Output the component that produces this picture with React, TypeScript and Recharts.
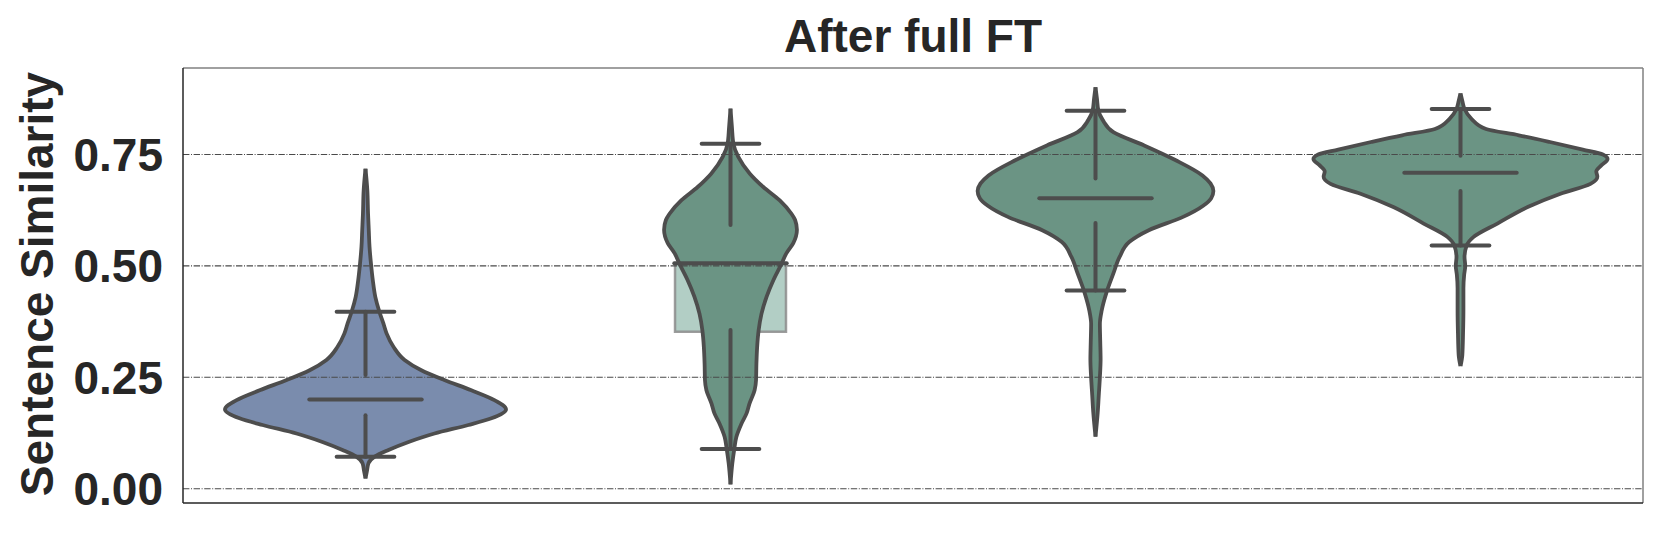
import { Area, ComposedChart, ReferenceArea, ReferenceLine, XAxis, YAxis } from 'recharts'

const yTicks = [0, 0.25, 0.5, 0.75]
const yDomain: [number, number] = [-0.032, 0.944]
const xDomain: [number, number] = [0, 4]

// violin outlines: sample heights and half widths (in category units)
const v1Y = [0.023, 0.04, 0.057, 0.072, 0.087, 0.105, 0.124, 0.143, 0.158, 0.178, 0.199, 0.221, 0.244, 0.266, 0.289, 0.318, 0.348, 0.371, 0.397, 0.43, 0.468, 0.505, 0.543, 0.58, 0.617, 0.67, 0.718]
const v1W = [0, 0.004, 0.008, 0.025, 0.063, 0.118, 0.189, 0.282, 0.345, 0.385, 0.353, 0.29, 0.216, 0.153, 0.107, 0.077, 0.058, 0.049, 0.038, 0.027, 0.02, 0.015, 0.011, 0.009, 0.007, 0.005, 0]

const v2Y = [0.01, 0.057, 0.087, 0.116, 0.146, 0.169, 0.191, 0.221, 0.244, 0.281, 0.318, 0.355, 0.393, 0.431, 0.469, 0.505, 0.528, 0.551, 0.581, 0.603, 0.617, 0.647, 0.677, 0.707, 0.745, 0.774, 0.81, 0.853]
const v2W = [0, 0.005, 0.01, 0.016, 0.03, 0.044, 0.052, 0.066, 0.07, 0.071, 0.073, 0.077, 0.085, 0.099, 0.118, 0.14, 0.153, 0.172, 0.182, 0.177, 0.167, 0.135, 0.09, 0.053, 0.021, 0.008, 0.004, 0]

const v3Y = [0.117, 0.17, 0.21, 0.25, 0.29, 0.33, 0.37, 0.4, 0.44, 0.483, 0.52, 0.554, 0.58, 0.61, 0.635, 0.652, 0.668, 0.685, 0.703, 0.737, 0.771, 0.8, 0.827, 0.848, 0.875, 0.901]
const v3W = [0, 0.006, 0.009, 0.012, 0.014, 0.013, 0.012, 0.017, 0.03, 0.049, 0.066, 0.093, 0.146, 0.24, 0.295, 0.317, 0.323, 0.315, 0.293, 0.22, 0.131, 0.049, 0.02, 0.008, 0.004, 0]

const v4Y = [0.275, 0.3, 0.35, 0.4, 0.45, 0.48, 0.5, 0.52, 0.546, 0.565, 0.595, 0.632, 0.662, 0.684, 0.7, 0.712, 0.725, 0.74, 0.75, 0.761, 0.778, 0.793, 0.807, 0.83, 0.852, 0.87, 0.887]
const v4W = [0, 0.005, 0.007, 0.008, 0.008, 0.01, 0.013, 0.011, 0.017, 0.036, 0.101, 0.184, 0.274, 0.356, 0.375, 0.372, 0.385, 0.403, 0.39, 0.335, 0.245, 0.16, 0.07, 0.03, 0.011, 0.005, 0]

// inner marks per violin
const medians = [0.2, 0.506, 0.652, 0.709]
const capLow = [0.072, 0.089, 0.445, 0.546]
const capHigh = [0.397, 0.774, 0.848, 0.852]
const q1 = [0.165, 0.356, 0.596, 0.668]
const q3 = [0.255, 0.592, 0.696, 0.747]

// shaded box on the second violin
const boxIndex = 1
const boxLow = 0.352
const boxHigh = 0.506

const fills = ['#7a8cad', '#6b9484', '#6b9484', '#6b9484']

const FONT = "'Liberation Sans', Arial, sans-serif"
const INK = '#4d4d4d'
const MEDIAN_HALF = 0.154
const CAP_HALF = 0.079

const outlines = [
  [v1Y, v1W],
  [v2Y, v2W],
  [v3Y, v3W],
  [v4Y, v4W],
].map(([ys, ws], i) => ys.map((y, k) => ({ y, range: [i + 0.5 - ws[k], i + 0.5 + ws[k]] })))

export default function App() {
  const lineProps = { stroke: INK, strokeWidth: 4, strokeLinecap: 'round' as const, ifOverflow: 'visible' as const }
  return (
    <div style={{ position: 'absolute', left: 0, top: 0, width: 1662, height: 534, background: '#fff' }}>
      <ComposedChart
        layout="vertical"
        width={1662}
        height={534}
        margin={{ top: 68, right: 19, bottom: 31, left: 0 }}
      >
        <XAxis type="number" domain={xDomain} allowDataOverflow hide />
        <YAxis
          type="number"
          dataKey="y"
          reversed
          domain={yDomain}
          allowDataOverflow
          ticks={yTicks}
          tickFormatter={(v: number) => v.toFixed(2)}
          width={183}
          tickSize={0}
          tickMargin={20}
          tickLine={false}
          axisLine={{ stroke: '#262626', strokeWidth: 1.5 }}
          tick={{ fontSize: 46, fontWeight: 700, fill: '#262626', fontFamily: FONT }}
        />
        {yTicks.map((t) => (
          <ReferenceLine key={`grid-${t}`} y={t} stroke="#4a4a4a" strokeWidth={1.1} strokeDasharray="6.4 1.6 1 1.6" />
        ))}
        <ReferenceLine y={yDomain[1]} stroke="#808080" strokeWidth={1.5} ifOverflow="visible" />
        <ReferenceLine x={xDomain[1]} stroke="#808080" strokeWidth={1.5} ifOverflow="visible" />
        <ReferenceLine y={yDomain[0]} stroke="#262626" strokeWidth={1.5} ifOverflow="visible" />
        <ReferenceArea
          x1={boxIndex + 0.5 - 0.152}
          x2={boxIndex + 0.5 + 0.152}
          y1={boxLow}
          y2={boxHigh}
          fill="#b2cec5"
          fillOpacity={1}
          stroke="#8c8c8c"
          strokeOpacity={0.85}
          strokeWidth={2.5}
          ifOverflow="visible"
        />
        {outlines.map((data, i) => (
          <Area
            key={`violin-${i}`}
            data={data}
            dataKey="range"
            type="monotone"
            fill={fills[i]}
            fillOpacity={1}
            stroke={INK}
            strokeWidth={3.8}
            dot={false}
            activeDot={false}
            isAnimationActive={false}
          />
        ))}
        {medians.map((m, i) => (
          <ReferenceLine key={`med-${i}`} segment={[{ x: i + 0.5 - MEDIAN_HALF, y: m }, { x: i + 0.5 + MEDIAN_HALF, y: m }]} {...lineProps} />
        ))}
        {capLow.map((c, i) => (
          <ReferenceLine key={`capl-${i}`} segment={[{ x: i + 0.5 - CAP_HALF, y: c }, { x: i + 0.5 + CAP_HALF, y: c }]} {...lineProps} />
        ))}
        {capHigh.map((c, i) => (
          <ReferenceLine key={`caph-${i}`} segment={[{ x: i + 0.5 - CAP_HALF, y: c }, { x: i + 0.5 + CAP_HALF, y: c }]} {...lineProps} />
        ))}
        {q1.map((q, i) => (
          <ReferenceLine key={`low-${i}`} segment={[{ x: i + 0.5, y: capLow[i] }, { x: i + 0.5, y: q }]} {...lineProps} />
        ))}
        {q3.map((q, i) => (
          <ReferenceLine key={`high-${i}`} segment={[{ x: i + 0.5, y: q }, { x: i + 0.5, y: capHigh[i] }]} {...lineProps} />
        ))}
      </ComposedChart>
      <svg width={1662} height={534} style={{ position: 'absolute', left: 0, top: 0, pointerEvents: 'none' }}>
        <text x={913} y={52} textAnchor="middle" fontSize={46} fontWeight={700} fill="#262626" fontFamily={FONT}>
          After full FT
        </text>
        <text
          transform="translate(53, 284) rotate(-90)"
          textAnchor="middle"
          fontSize={46}
          fontWeight={700}
          fill="#262626"
          fontFamily={FONT}
        >
          Sentence Similarity
        </text>
      </svg>
    </div>
  )
}
